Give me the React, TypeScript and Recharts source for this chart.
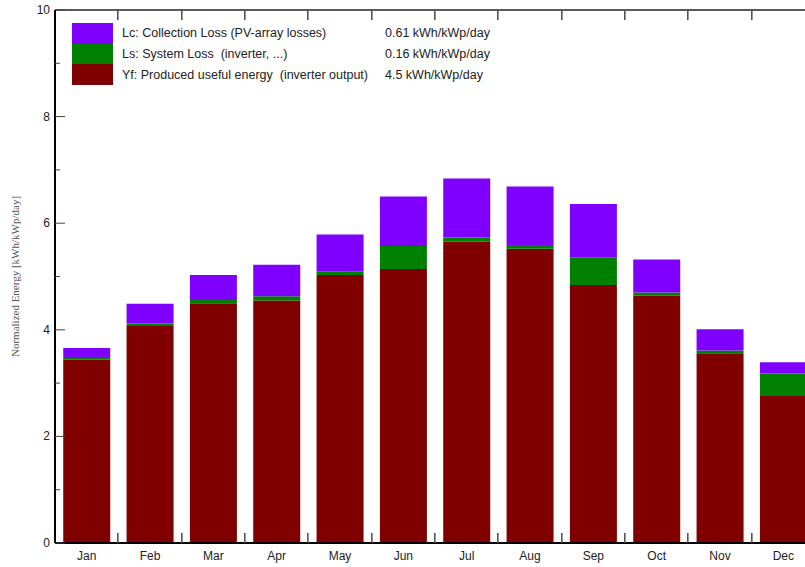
import React from 'react';
import { BarChart, Bar, XAxis, YAxis, Legend, ReferenceLine } from 'recharts';

const MONTHS = ['Jan', 'Feb', 'Mar', 'Apr', 'May', 'Jun', 'Jul', 'Aug', 'Sep', 'Oct', 'Nov', 'Dec'];
// Yf: produced useful energy, Ls: system loss, Lc: collection loss (kWh/kWp/day)
const YF = [3.44, 4.07, 4.5, 4.55, 5.03, 5.14, 5.65, 5.52, 4.84, 4.64, 3.56, 2.76];
const LS = [0.05, 0.05, 0.06, 0.08, 0.07, 0.43, 0.08, 0.07, 0.52, 0.06, 0.05, 0.42];
const LC = [0.17, 0.37, 0.47, 0.59, 0.69, 0.93, 1.11, 1.1, 1.0, 0.62, 0.4, 0.21];

const Y_MAX = 10;
const Y_TICKS = [0, 1, 2, 3, 4, 5, 6, 7, 8, 9, 10];

const LEGEND_LABELS = [
  'Lc: Collection Loss (PV-array losses)',
  'Ls: System Loss  (inverter, ...)',
  'Yf: Produced useful energy  (inverter output)',
];
const LEGEND_VALUES = ['0.61 kWh/kWp/day', '0.16 kWh/kWp/day', '4.5 kWh/kWp/day'];
const COLORS = { lc: '#8000ff', ls: '#008000', yf: '#800000' };
const LEGEND_COLORS = [COLORS.lc, COLORS.ls, COLORS.yf];

const data = MONTHS.map((m, i) => ({ month: m, yf: YF[i], ls: LS[i], lc: LC[i] }));

const SANS = '"Liberation Sans", Arial, sans-serif';

const CHART_W = 830;
const CHART_H = 567;
const MARGIN = { top: 10, right: 15, bottom: 0, left: 0 };
const Y_AXIS_W = 55;
const BAND = (CHART_W - MARGIN.left - MARGIN.right - Y_AXIS_W) / MONTHS.length;

// y ticks; the top and bottom ticks also carry the month-boundary marks of the frame
const LeftTick = ({ x, y, payload }: any) => {
  const v = payload.value;
  const major = v % 2 === 0;
  const edge = v === 0 || v === Y_MAX;
  const top = v === Y_MAX;
  return (
    <g>
      <line x1={x} x2={x + (major ? 10 : 5)} y1={y} y2={y} stroke="#444" strokeWidth={1} />
      {edge &&
        MONTHS.slice(1).map((m, k) => {
          const bx = Math.round(x + BAND * (k + 1)) - 1;
          return <rect key={m} x={bx} y={top ? y : y - 10} width={1.6} height={10} fill="#555" />;
        })}
      {major && (
        <text x={x - 5} y={y} dy={4} textAnchor="end" fontSize={12} fontFamily={SANS} fill="#222">
          {v}
        </text>
      )}
    </g>
  );
};

const BottomTick = ({ x, y, payload }: any) => (
  <text x={x} y={y} dy={17} textAnchor="middle" fontSize={12} fontFamily={SANS} fill="#222">
    {payload.value}
  </text>
);

const YLabel = ({ viewBox }: any) => {
  const cy = viewBox.y + viewBox.height / 2;
  return (
    <text
      x={15}
      y={cy}
      transform={`rotate(-90, 15, ${cy})`}
      textAnchor="middle"
      dominantBaseline="central"
      fontSize={11}
      fontFamily='"Liberation Serif", "Times New Roman", serif'
      fill="#555"
    >
      Normalized Energy [kWh/kWp/day]
    </text>
  );
};

const LegendBox = () => (
  <div style={{ fontFamily: SANS, fontSize: 12.5, color: '#222' }}>
    {LEGEND_LABELS.map((label, i) => (
      <div key={label} style={{ display: 'flex', alignItems: 'center', height: 20.7 }}>
        <div style={{ width: 41, height: 20.7, background: LEGEND_COLORS[i] }} />
        <span style={{ width: 263, marginLeft: 9, whiteSpace: 'pre' }}>{label}</span>
        <span style={{ whiteSpace: 'pre' }}>{LEGEND_VALUES[i]}</span>
      </div>
    ))}
  </div>
);

export default function App() {
  return (
    <div style={{ position: 'absolute', left: 0, top: 0, width: 805, height: 567, overflow: 'hidden', background: '#fff' }}>
      <BarChart width={CHART_W} height={CHART_H} data={data} margin={MARGIN} barCategoryGap="13%">
        <XAxis
          dataKey="month"
          height={24}
          axisLine={{ stroke: '#000', strokeWidth: 2 }}
          tickLine={false}
          tickSize={0}
          tickMargin={0}
          tick={<BottomTick />}
          interval={0}
        />
        <YAxis
          width={Y_AXIS_W}
          domain={[0, Y_MAX]}
          ticks={Y_TICKS}
          interval={0}
          axisLine={{ stroke: '#000', strokeWidth: 2 }}
          tickLine={false}
          tickSize={0}
          tickMargin={0}
          tick={<LeftTick />}
          label={<YLabel />}
        />
        <Legend
          layout="vertical"
          align="center"
          verticalAlign="middle"
          content={<LegendBox />}
          wrapperStyle={{ position: 'absolute', left: 72, top: 23, width: 'auto' }}
        />
        <Bar dataKey="yf" stackId="a" fill={COLORS.yf} isAnimationActive={false} />
        <Bar dataKey="ls" stackId="a" fill={COLORS.ls} isAnimationActive={false} />
        <Bar dataKey="lc" stackId="a" fill={COLORS.lc} isAnimationActive={false} />
        <ReferenceLine y={Y_MAX} stroke="#222" strokeWidth={1.5} />
      </BarChart>
    </div>
  );
}
